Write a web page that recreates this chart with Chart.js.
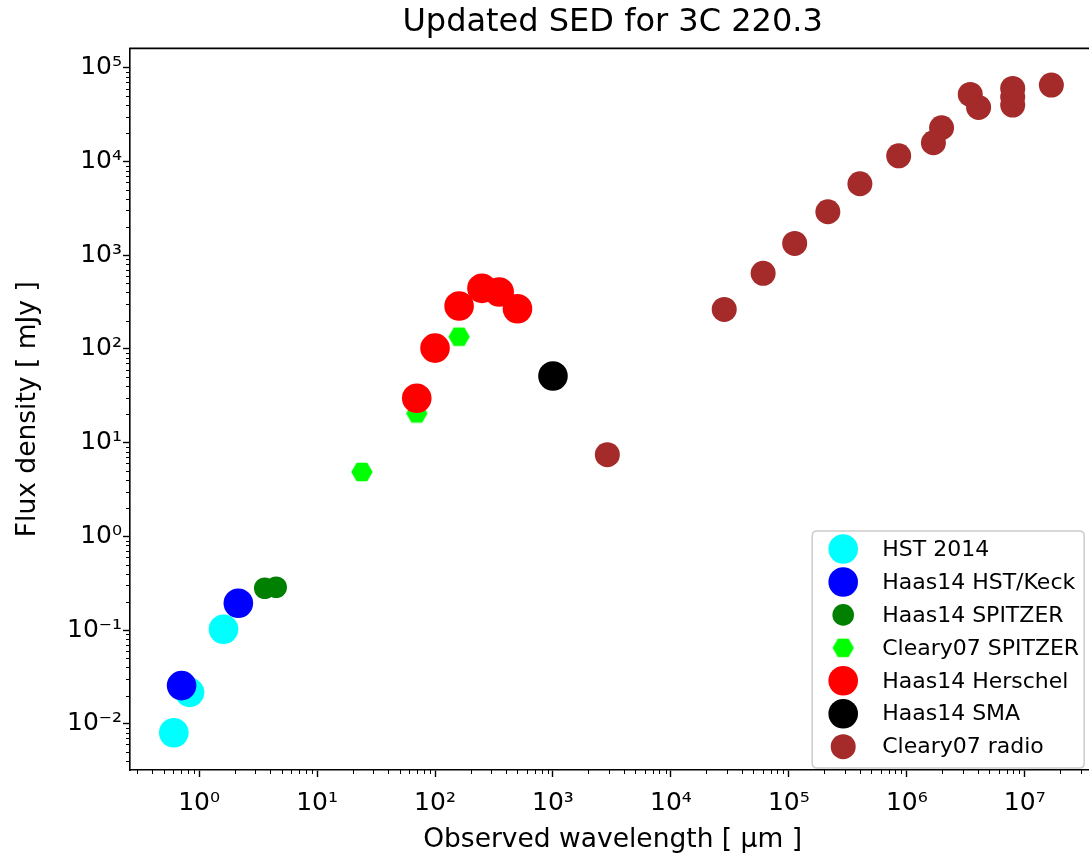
<!DOCTYPE html>
<html>
<head>
<meta charset="utf-8">
<title>Updated SED for 3C 220.3</title>
<script src="https://cdn.jsdelivr.net/npm/chart.js@4/dist/chart.umd.min.js"></script>
<style>
  html, body { margin: 0; padding: 0; background: #fff; overflow: hidden; }
  #wrap { width: 1110px; height: 856px; }
</style>
</head>
<body>
<div id="wrap"><canvas id="sed" width="1110" height="856"></canvas></div>
<script>
// observed wavelength [um] and flux density [mJy] per data set
const hstWave = [0.61, 0.83, 1.61];
const hstFlux = [0.0080, 0.0216, 0.102];
const keckWave = [0.71, 2.15];
const keckFlux = [0.0255, 0.193];
const spitzerWave = [3.6, 4.5];
const spitzerFlux = [0.279, 0.286];
const clearySpitzerWave = [24, 70, 160];
const clearySpitzerFlux = [4.86, 20.5, 135];
const herschelWave = [70, 100, 160, 250, 350, 500];
const herschelFlux = [29.7, 102, 287, 443, 405, 268];
const smaWave = [1000];
const smaFlux = [51.3];
const radioWave = [2890, 28300, 60500, 112000, 214000, 400000, 853000, 1.68e6, 1.97e6,
                   3.45e6, 4.06e6, 7.9e6, 7.9e6, 7.9e6, 1.68e7];
const radioFlux = [7.43, 264, 640, 1337, 2910, 5790, 11500, 15850, 22900,
                   52000, 37800, 60300, 48700, 40000, 65400];

const xTickValues = [1, 10, 100, 1e3, 1e4, 1e5, 1e6, 1e7];
const xTickLabels = ['10⁰', '10¹', '10²', '10³', '10⁴', '10⁵', '10⁶', '10⁷'];
const yTickValues = [1e-2, 1e-1, 1, 10, 100, 1e3, 1e4, 1e5];
const yTickLabels = ['10⁻²', '10⁻¹', '10⁰', '10¹', '10²', '10³', '10⁴', '10⁵'];

const FONT = 'DejaVu Sans';

function pairs(xs, ys) {
  return xs.map((x, i) => ({ x: x, y: ys[i] }));
}

// flat-topped hexagon marker (matplotlib 'H')
function hexMarker(r, color) {
  const c = document.createElement('canvas');
  c.width = Math.ceil(2 * r + 2);
  c.height = Math.ceil(2 * r + 2);
  const g = c.getContext('2d');
  const cx = c.width / 2, cy = c.height / 2;
  g.beginPath();
  for (let k = 0; k < 6; k++) {
    const a = k * Math.PI / 3;
    const px = cx + r * Math.cos(a), py = cy + r * Math.sin(a);
    if (k === 0) g.moveTo(px, py); else g.lineTo(px, py);
  }
  g.closePath();
  g.fillStyle = color;
  g.fill();
  return c;
}

const hexImg = hexMarker(10.7, '#00ff00');

const series = [
  { label: 'HST 2014',          wave: hstWave,           flux: hstFlux,           color: '#00ffff', r: 14.8 },
  { label: 'Haas14 HST/Keck',   wave: keckWave,          flux: keckFlux,          color: '#0000ff', r: 14.8 },
  { label: 'Haas14 SPITZER',    wave: spitzerWave,       flux: spitzerFlux,       color: '#008000', r: 10.8 },
  { label: 'Cleary07 SPITZER',  wave: clearySpitzerWave, flux: clearySpitzerFlux, color: '#00ff00', r: 10.7, hex: true },
  { label: 'Haas14 Herschel',   wave: herschelWave,      flux: herschelFlux,      color: '#ff0000', r: 14.8 },
  { label: 'Haas14 SMA',        wave: smaWave,           flux: smaFlux,           color: '#000000', r: 14.8 },
  { label: 'Cleary07 radio',    wave: radioWave,         flux: radioFlux,         color: '#a52a2a', r: 12.5 }
];

const datasets = series.map((s, i) => ({
  label: s.label,
  data: pairs(s.wave, s.flux),
  backgroundColor: s.color,
  borderColor: s.color,
  borderWidth: 0,
  pointRadius: s.r,
  pointHoverRadius: s.r,
  pointStyle: s.hex ? hexImg : 'circle',
  showLine: false,
  order: series.length - i   // later series drawn on top, like matplotlib
}));

// minor ticks, top spine and the in-axes legend box
const framePlugin = {
  id: 'frame',
  afterDraw(chart) {
    const ctx = chart.ctx;
    const area = chart.chartArea;
    const xs = chart.scales.x, ys = chart.scales.y;
    ctx.save();
    ctx.strokeStyle = '#000';
    ctx.lineWidth = 1;
    for (let k = -1; k <= 8; k++) {
      for (let m = 2; m <= 9; m++) {
        const v = m * Math.pow(10, k);
        if (v > xs.min && v < xs.max) {
          const px = Math.round(xs.getPixelForValue(v)) + 0.5;
          ctx.beginPath(); ctx.moveTo(px, area.bottom); ctx.lineTo(px, area.bottom + 4); ctx.stroke();
        }
      }
    }
    for (let k = -3; k <= 6; k++) {
      for (let m = 2; m <= 9; m++) {
        const v = m * Math.pow(10, k);
        if (v > ys.min && v < ys.max) {
          const py = Math.round(ys.getPixelForValue(v)) + 0.5;
          ctx.beginPath(); ctx.moveTo(area.left, py); ctx.lineTo(area.left - 4, py); ctx.stroke();
        }
      }
    }
    // top spine
    ctx.lineWidth = 1.6;
    ctx.beginPath(); ctx.moveTo(area.left - 0.8, area.top); ctx.lineTo(area.right, area.top); ctx.stroke();

    // legend
    const bw = 272, bh = 237;
    const bx = area.right - 11 - bw, by = area.bottom - 2 - bh;
    const rad = 5;
    ctx.beginPath();
    ctx.moveTo(bx + rad, by);
    ctx.lineTo(bx + bw - rad, by); ctx.quadraticCurveTo(bx + bw, by, bx + bw, by + rad);
    ctx.lineTo(bx + bw, by + bh - rad); ctx.quadraticCurveTo(bx + bw, by + bh, bx + bw - rad, by + bh);
    ctx.lineTo(bx + rad, by + bh); ctx.quadraticCurveTo(bx, by + bh, bx, by + bh - rad);
    ctx.lineTo(bx, by + rad); ctx.quadraticCurveTo(bx, by, bx + rad, by);
    ctx.closePath();
    ctx.fillStyle = 'rgba(255,255,255,0.8)';
    ctx.fill();
    ctx.strokeStyle = '#cccccc';
    ctx.lineWidth = 1.5;
    ctx.stroke();

    ctx.font = '22px "' + FONT + '"';
    ctx.textBaseline = 'middle';
    ctx.textAlign = 'left';
    chart.data.datasets.forEach((ds, i) => {
      const cy = by + 18 + i * 32.95;
      const cx = bx + 31;
      if (ds.pointStyle instanceof HTMLCanvasElement) {
        ctx.drawImage(ds.pointStyle, cx - ds.pointStyle.width / 2, cy - ds.pointStyle.height / 2);
      } else {
        ctx.beginPath();
        ctx.arc(cx, cy, ds.pointRadius, 0, Math.PI * 2);
        ctx.fillStyle = ds.backgroundColor;
        ctx.fill();
      }
      ctx.fillStyle = '#000';
      ctx.fillText(ds.label, bx + 70, cy + 1);
    });
    ctx.restore();
  }
};

new Chart(document.getElementById('sed').getContext('2d'), {
  type: 'scatter',
  data: { datasets: datasets },
  options: {
    responsive: false,
    animation: false,
    layout: { padding: { left: 0, right: 12, top: 0, bottom: 0 } },
    plugins: {
      legend: { display: false },
      tooltip: { enabled: false },
      title: {
        display: true,
        text: 'Updated SED for 3C 220.3',
        fullSize: false,
        color: '#000',
        font: { family: FONT, size: 32, weight: 'normal' },
        padding: { top: 3, bottom: 7 }
      }
    },
    scales: {
      x: {
        type: 'logarithmic',
        min: Math.pow(10, -0.586),
        max: Math.pow(10, 7.597),
        afterBuildTicks: (scale) => { scale.ticks = xTickValues.map(v => ({ value: v, major: true })); },
        afterFit: (scale) => { scale.height = 86; },
        grid: { display: true, drawOnChartArea: false, drawTicks: true, tickLength: 7, tickWidth: 1.4, tickColor: '#000' },
        border: { display: true, color: '#000', width: 1.6 },
        ticks: {
          autoSkip: false,
          maxRotation: 0,
          padding: 11,
          color: '#000',
          font: { family: FONT, size: 25 },
          callback: (value, index) => xTickLabels[index]
        },
        title: {
          display: true,
          text: 'Observed wavelength [ μm ]',
          color: '#000',
          font: { family: FONT, size: 26.5 },
          padding: { top: 0, bottom: 0 }
        }
      },
      y: {
        type: 'logarithmic',
        min: Math.pow(10, -2.494),
        max: Math.pow(10, 5.207),
        afterBuildTicks: (scale) => { scale.ticks = yTickValues.map(v => ({ value: v, major: true })); },
        afterFit: (scale) => { scale.width = 130; },
        grid: { display: true, drawOnChartArea: false, drawTicks: true, tickLength: 7, tickWidth: 1.4, tickColor: '#000' },
        border: { display: true, color: '#000', width: 1.6 },
        ticks: {
          autoSkip: false,
          padding: 1,
          color: '#000',
          font: { family: FONT, size: 25 },
          callback: (value, index) => yTickLabels[index]
        },
        title: {
          display: true,
          text: 'Flux density [ mJy ]',
          color: '#000',
          font: { family: FONT, size: 26.5 },
          padding: { top: 12, bottom: 0 }
        }
      }
    }
  },
  plugins: [framePlugin]
});
</script>
</body>
</html>
